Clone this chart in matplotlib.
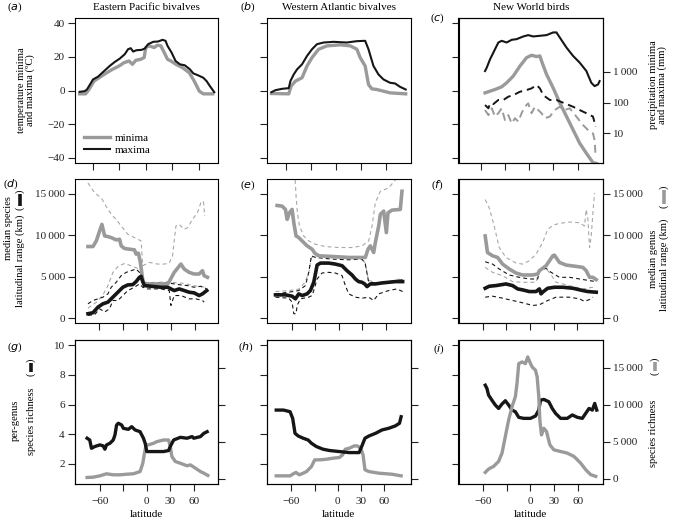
import matplotlib.pyplot as plt
from matplotlib.lines import Line2D
from matplotlib.ticker import NullLocator

plt.rcParams['font.family'] = ['Liberation Serif', 'DejaVu Serif']
plt.rcParams['font.size'] = 8
plt.rcParams['axes.linewidth'] = 0.8

# ---------------- data (latitude, value) ----------------
# (a) Eastern Pacific temperature
a_max_lat = [-74.7, -69, -66.4, -59.6, -54, -48.3, -40.8, -35.1, -29.4, -23.8, -20, -17, -14.3, -10.6, -4.9, -1.1,
             2.6, 8.3, 13.9, 18.9, 22.3, 24.5, 29.1, 33.6, 38.5, 44.1, 49.8, 53.6, 59.2, 64.9, 68.6, 72.4, 77.3]
a_max_t = [-0.8, -0.4, 0.6, 6.6, 8.2, 11, 14.6, 17, 19, 21.6, 24.6, 25.2, 23.2, 24, 24.2, 25, 27.6, 29, 29.2, 30.2,
           29.6, 26.6, 22.6, 17.6, 15.6, 15, 12.6, 10.2, 9, 7.6, 5.6, 2.6, -1]
a_min_lat = [-74.7, -68, -64.2, -58.5, -52.8, -45.3, -37.7, -30.2, -24.5, -18.9, -15.1, -11.3, -5.7, -1.9, 0, 3.8,
             9.4, 13.2, 17, 20.8, 24.5, 28.3, 34, 41.5, 49.1, 54.7, 60.4, 64.9, 75.5]
a_min_t = [-2, -2, 0.6, 5.6, 7.6, 10.2, 12.6, 14.6, 16.6, 17.6, 15.6, 18, 18.6, 19.6, 25.6, 26.6, 25.6, 27, 26.6,
           22.6, 18.6, 17.6, 15.6, 13.6, 10.6, 5.6, -0.4, -2, -2]

# (b) Western Atlantic temperature
b_max_lat = [-78, -73.2, -65.2, -57.2, -55.2, -51.2, -47.2, -41.2, -35.2, -29.2, -23.2, -15.2, -3.2, 12.8, 24.8,
             34.8, 38.8, 44.8, 50.8, 56.8, 64.8, 70.8, 76.8, 83.6]
b_max_t = [-1, 0.2, 1, 1.4, 5.6, 9.6, 12.6, 15.6, 20.6, 24.6, 27.6, 28.6, 29, 28.6, 29.4, 29.6, 24.6, 14.6, 9.6,
           6.6, 4.6, 4.2, 2.2, 0.6]
b_min_lat = [-78, -57.2, -54.4, -49.2, -41.2, -35.2, -29.2, -21.2, -11.2, 4.8, 16.8, 24.8, 28.8, 34.8, 38.8, 42.8,
             48.8, 56.8, 64.8, 83.6]
b_min_t = [-1.8, -2, 2.6, 5.6, 7.6, 14.6, 19.6, 24.6, 26.6, 27.2, 26.6, 24.6, 19.6, 14.6, 3.6, 1, 0.6, -0.4, -1.4, -2]

# (c) New World birds temperature and precipitation
c_tmax_lat = [-54.8, -52.7, -48.6, -44.5, -38.3, -34.2, -28, -21.8, -15.7, -7.4, -1.3, 4.9, 13.1, 21.4, 29.6,
              33.7, 37.8, 46.1, 54.3, 62.5, 70.8, 76.9, 81, 85.2, 87.2]
c_tmax = [11.6, 13.6, 18.6, 22.6, 28.6, 29.6, 28.6, 30.2, 30.6, 32.2, 33, 32.2, 32.6, 33, 34.6, 34.6, 31.6, 25.6,
          20.6, 16.6, 11.6, 4.6, 2.6, 3.6, 5.6]
c_tmin_lat = [-54.8, -48.6, -42.4, -34.2, -28, -19.8, -11.5, -3.3, 2.9, 9, 13.2, 15.2, 21.4, 29.6, 37.8, 46.1, 54.3,
              62.5, 70.8, 79, 83.1]
c_tmin = [-1.4, -0.4, 0.6, 2.2, 4.6, 8.6, 14.6, 19.6, 21, 20.2, 20.6, 17.6, 9.6, 1.6, -7.4, -15.4, -23.4, -31.4,
          -37.4, -43, -43.4]
c_pmax_lat = [-54.8, -50.6, -48.6, -44.5, -38.3, -32.1, -25.9, -19.8, -11.5, -3.3, 2.9, 9, 13.2, 17.3, 25.5, 33.7,
              44, 54.3, 62.5, 70.8, 79, 82.3]
c_pmax = [83, 65, 94, 89, 121, 121, 155, 174, 224, 255, 288, 371, 288, 174, 121, 121, 94, 73, 57, 45, 35, 16.4]
c_pmin_lat = [-54.8, -50.6, -46.5, -42.4, -38.3, -34.2, -30.1, -25.9, -21.8, -17.7, -13.6, -9.5, -5.4, -1.3, 2.9, 7,
              11.1, 15.2, 19.3, 25.5, 31.7, 37.8, 44, 50.2, 58.4, 66.6, 74.9, 79, 81, 82.3]
c_pmin = [57, 39, 65, 35, 45, 65, 27, 39, 21, 31, 24, 45, 73, 94, 45, 73, 57, 45, 31, 35, 57, 73, 57, 65, 35, 18.6,
          11.3, 10, 6, 1.7]

# (d) Eastern Pacific latitudinal ranges (km)
d_sp_lat = [-74.5, -68.2, -61.9, -55.6, -49.4, -43.1, -38.9, -34.7, -30.5, -24.3, -18, -13.8, -9.6, -7.5, -5.4, -3.3,
            5, 17.6, 26, 30.1, 34.3, 40.6, 46.9, 53.1, 59.4, 65.7, 69.9, 75.3]
d_sp = [520, 640, 1320, 1720, 1920, 2520, 2920, 3320, 3720, 4000, 4040, 4400, 4920, 5040, 4400, 3920, 3840, 3720,
        3720, 3520, 3320, 3520, 3320, 3120, 3040, 2720, 2920, 3320]
d_gen_lat = [-74.5, -68.2, -64, -59.8, -56.9, -53.5, -49.4, -45.2, -38.9, -34.7, -32.6, -28.4, -22.2, -15.9, -13.8,
             -10.9, -8.4, -5.4, -3.3, 9.2, 26, 28, 34.3, 42.7, 46.9, 53.1, 59.4, 65.7, 69.9, 72, 76.2]
d_gen = [8640, 8640, 9320, 10520, 11320, 9920, 9840, 9720, 9440, 9520, 8720, 8400, 8320, 8240, 7720, 7840, 6720,
         4520, 4120, 4120, 4120, 4400, 5520, 6520, 5920, 5520, 5320, 5320, 5720, 5120, 4920]
d_gen_hi_lat = [-74.5, -66.1, -57.7, -49.4, -43.1, -38.9, -32.6, -24.3, -15.9, -7.5, -5.4, 2.9, 13.4, 21.8, 28, 32.2,
                36.4, 40.6, 46.9, 51.1, 57.3, 63.6, 67.8, 71.1, 72.8]
d_gen_hi = [16320, 15120, 14520, 13120, 12320, 11920, 11120, 10120, 9720, 9320, 6320, 6720, 6520, 6520, 6640, 7520,
            11120, 11320, 10720, 10920, 11920, 12720, 13920, 14120, 12320]
d_gen_lo_lat = [-74.5, -64, -55.6, -49.4, -43.1, -36, -28, -20, -12, -6, -3.3, 10, 28, 32, 45, 60, 75]
d_gen_lo = [1200, 1900, 2800, 3900, 5500, 6300, 6600, 6300, 6000, 5600, 4300, 4300, 4400, 4300, 4200, 3900, 3700]
d_sp_hi_lat = [-74.5, -68.2, -61.9, -55.6, -49.4, -45.2, -38.9, -32.6, -26.3, -20.1, -13.8, -9.6, -5.4, 0.8, 17.6,
               28, 34.3, 42.7, 51.1, 59.4, 67.8, 75.3]
d_sp_hi = [1720, 2120, 2320, 2520, 2920, 3720, 4320, 5120, 5520, 5720, 5920, 5520, 4320, 4240, 4240, 4240, 4120,
           4000, 3920, 3720, 3840, 3520]
d_sp_lo_lat = [-74.5, -66.1, -59.8, -53.5, -47.3, -43.1, -36.8, -30.5, -24.3, -15.9, -9.6, -5.4, 0.8, 17.6, 28,
               30.1, 34.3, 42.7, 53.1, 61.5, 69.9, 72]
d_sp_lo = [320, 400, 1120, 720, 1120, 2120, 2120, 2720, 3320, 3720, 4120, 3720, 3520, 3520, 3320, 1520, 2720, 2720,
           2320, 2320, 2120, 1920]

# (e) Western Atlantic latitudinal ranges (km)
e_sp_lat = [-80.8, -68.1, -59.6, -55.3, -51.1, -46.8, -40.4, -36.2, -31.9, -29.8, -27.6, -23.4, -12.8, -4.3, 4.3,
            10.6, 17, 21.3, 25.5, 29.8, 33.2, 36.2, 40.4, 46.8, 55.3, 63.8, 72.3, 81.7]
e_sp = [2800, 2800, 2640, 2320, 2920, 2720, 2920, 3320, 4320, 5320, 6400, 6640, 6640, 6520, 6320, 5720, 5200, 4720,
        4400, 4320, 4120, 3800, 4120, 4120, 4240, 4320, 4400, 4400]
e_gen_lat = [-78.7, -72.3, -68.1, -65.9, -63, -59.6, -57.4, -54.5, -51.1, -46.8, -40.4, -34, -30.6, -25.5, -8.5,
             12.8, 29.8, 34, 37.5, 40.4, 44.7, 46.8, 51.1, 53.2, 57.5, 60.9, 63, 68.1, 78.7, 80.9]
e_gen = [13600, 13520, 13120, 11920, 12720, 13120, 11520, 9920, 9720, 9320, 8720, 8320, 7840, 7520, 7440, 7320,
         7320, 7320, 8320, 8720, 7920, 9120, 11120, 12520, 12920, 10320, 12720, 13040, 13120, 15320]
e_gen_hi_lat = [-56.2, -54.5, -52.8, -50.2, -44.7, -38.3, -29.8, -17, 0, 17, 29.8, 38.3, 42.6, 46.8, 53.2, 63.8,
                74.5, 81.7]
e_gen_hi = [17520, 14720, 12720, 11120, 9920, 9320, 8920, 8640, 8520, 8520, 8720, 9320, 11120, 13920, 15320, 15720,
            16920, 17520]
e_gen_lo_lat = [-80.8, -64, -51, -43, -38, -35, -30, -9, 13, 30, 34, 38, 47, 64, 82]
e_gen_lo = [3200, 3300, 3500, 4300, 5600, 7300, 7500, 7300, 7200, 7200, 6600, 4600, 4200, 4400, 4800]
e_sp_hi_lat = [-80.8, -63.8, -51.1, -42.5, -38.3, -34.9, -29.8, -8.5, 12.8, 29.8, 34, 38.3, 46.8, 63.8, 81.7]
e_sp_hi = [2920, 3120, 3320, 3920, 5520, 7520, 7320, 7120, 7040, 7120, 6520, 4320, 4240, 4320, 4640]
e_sp_lo_lat = [-80.8, -63.8, -59.6, -57.4, -54.5, -53.2, -48.9, -38.3, -34, -31.9, -27.6, -21.3, -12.8, -4.3, 4.3,
               8.5, 12.8, 21.3, 29.8, 38.3, 44.7, 51.1, 63.8, 74.5, 81.7]
e_sp_lo = [2520, 2400, 1920, 520, 520, 1520, 2320, 2520, 2720, 3320, 4720, 5440, 5520, 5440, 5120, 3920, 2920,
           2520, 2400, 2520, 2120, 2920, 3320, 3520, 3200]

# (f) New World birds latitudinal ranges (km)
f_sp_lat = [-56.8, -51.7, -43.3, -30.5, -22.1, -15.7, -9.4, -0.9, 7.6, 11.8, 13.9, 16.9, 22.4, 30.9, 41.5, 54.2,
            66.9, 73.3, 83.8]
f_sp = [3600, 3840, 3920, 4120, 3920, 3520, 3400, 3200, 3200, 3520, 2920, 3200, 3600, 3720, 3720, 3600, 3320, 3200,
        3120]
f_gen_lat = [-56.8, -53.9, -47.5, -41.1, -34.8, -26.3, -17.8, -9.4, 3.4, 9.7, 11.8, 20.3, 28.8, 30.9, 37.2, 45.7,
             58.4, 66.9, 71.1, 75.4, 79.6, 83.8]
f_gen = [9920, 7920, 7520, 7320, 6520, 5920, 5440, 5200, 5200, 5320, 5720, 6320, 7520, 7600, 6720, 6400, 6240,
         6120, 5720, 4920, 4920, 4640]
f_gen_hi_lat = [-56.8, -51.7, -45.4, -39, -30.5, -17.8, -9.4, -0.9, 7.6, 16, 22.4, 28.8, 37.2, 49.9, 62.7, 69, 71.1,
                73.3, 75.4, 77.5, 79.6, 81.7]
f_gen_hi = [14320, 13320, 11120, 8520, 7320, 6640, 6520, 6920, 7720, 9120, 10720, 11200, 11440, 11600, 11520,
            11120, 13120, 11920, 8520, 9920, 12720, 15120]
f_gen_lo_lat = [-56.8, -47.5, -34.8, -22.1, -9.4, 7.6, 11.8, 18.2, 24.5, 33, 49.9, 66.9, 79.6]
f_gen_lo = [6120, 5520, 5120, 4400, 4320, 4320, 5840, 6120, 5520, 4320, 3920, 3520, 3720]
f_sp_hi_lat = [-56.8, -47.5, -39, -26.3, -13.6, -0.9, 9.7, 11.8, 20.3, 26.7, 37.2, 49.9, 62.7, 75.4, 83.8]
f_sp_hi = [6800, 6520, 5920, 5200, 4920, 4720, 4720, 5720, 6000, 5520, 4920, 4920, 4720, 4520, 4400]
f_sp_lo_lat = [-56.8, -47.5, -34.8, -22.1, -9.4, 3.4, 11.8, 22.4, 33, 49.9, 62.7, 69, 75.4, 79.6]
f_sp_lo = [2520, 2640, 2400, 2120, 1840, 1520, 1600, 2120, 2520, 2520, 2320, 2000, 2240, 2520]

# (g) Eastern Pacific richness
g_pg_lat = [-76.3, -72.9, -70.7, -66.4, -60, -55.7, -53.6, -51.4, -47.1, -42.9, -40.7, -38.6, -36.4, -32.1, -30,
            -23.6, -19.3, -15, -8.6, -4.3, -2.1, 0, 8.6, 21.4, 27.9, 30, 34.3, 42.9, 51.4, 57.9, 60, 68.6, 72.9, 77.1]
g_pg = [3.73, 3.61, 3.05, 3.17, 3.28, 3.21, 2.99, 3.28, 3.39, 3.61, 3.95, 4.62, 4.74, 4.62, 4.4, 4.33, 4.51, 4.29,
        4.17, 3.73, 3.39, 2.83, 2.83, 2.83, 2.9, 3.17, 3.61, 3.79, 3.73, 3.84, 3.73, 3.84, 4.06, 4.17]
g_sr_lat = [-76.3, -68.6, -60, -51.4, -42.9, -34.3, -25.7, -17.1, -8.6, -5.1, -3, -0.9, 2.1, 8.6, 12.9, 21.4, 27.9,
            30, 32.1, 36.4, 42.9, 51.4, 55.7, 62.1, 68.6, 72.9, 78]
g_sr = [1.08, 1.1, 1.19, 1.33, 1.26, 1.26, 1.3, 1.33, 1.48, 2.04, 2.72, 3.28, 3.28, 3.39, 3.5, 3.61, 3.61, 3.17,
        2.49, 2.16, 2.04, 1.87, 1.93, 1.71, 1.48, 1.37, 1.22]

# (h) Western Atlantic richness
h_pg_lat = [-79.6, -70.2, -61.7, -58.3, -56.6, -55.3, -51.1, -44.7, -38.3, -34, -27.7, -19.1, -10.6, 2.1, 14.9, 27.7,
            31.9, 35.3, 40.4, 48.9, 57.4, 66, 74.5, 80, 82.1]
h_pg = [5.63, 5.63, 5.52, 5.07, 4.51, 4.06, 3.88, 3.73, 3.61, 3.39, 3.17, 2.99, 2.9, 2.83, 2.76, 2.76, 3.28, 3.73,
        3.88, 4.06, 4.29, 4.4, 4.56, 4.74, 5.18]
h_sr_lat = [-79.6, -61.7, -57.4, -54, -49.8, -44.7, -40.4, -34, -29.8, -23.4, -14.9, -6.4, 2.1, 6.4, 9.8, 14.9, 21.3,
            25.5, 29.8, 32.8, 35.3, 40.4, 53.2, 70.2, 82.1]
h_sr = [1.19, 1.19, 1.33, 1.42, 1.26, 1.37, 1.48, 1.82, 2.27, 2.27, 2.31, 2.38, 2.43, 2.61, 2.99, 3.05, 3.21, 3.21,
        3.05, 2.61, 1.6, 1.48, 1.37, 1.3, 1.19]

# (i) New World birds richness
i_pg_lat = [-57.2, -55.1, -53, -48.8, -44.5, -40.3, -36, -31.8, -27.6, -23.3, -19.1, -14.8, -8.5, 0, 6.4, 10.6, 12.7,
            17, 23.3, 27.6, 31.8, 38.2, 46.6, 53, 59.4, 65.7, 70, 74.2, 78.4, 81.4, 84]
i_pg = [7.31, 7.09, 6.64, 6.3, 5.97, 5.74, 6.04, 6.26, 5.97, 5.63, 5.52, 5.14, 5.07, 5.07, 5.23, 5.63, 6.3, 6.35,
        6.19, 5.74, 5.41, 5.07, 5.07, 5.3, 5.14, 5.07, 5.41, 5.74, 5.63, 6.08, 5.63]
i_sr_lat = [-57.2, -53, -46.6, -40.3, -36, -31.8, -27.6, -23.3, -19.1, -17, -14.8, -10.6, -6.4, -3.4, -0.8, 2.1, 6.4,
            8.5, 10.6, 11.9, 14, 17, 20.4, 24.6, 29.7, 38.2, 46.6, 55.1, 63.6, 70, 76.3, 82.7]
i_sr = [850, 1300, 1660, 2330, 3450, 5680, 7920, 9710, 11060, 12850, 15530, 15760, 15530, 16430, 15760, 15080,
        14640, 13740, 11060, 7920, 5910, 6800, 6360, 4570, 3890, 3670, 3450, 3000, 2100, 1210, 540, 310]

titles = ['Eastern Pacific bivalves', 'Western Atlantic bivalves', 'New World birds']
lat_ticks = [-60, -30, 0, 30, 60]
lat_labels = ['\u221260', '', '0', '30', '60']
temp_ticks = [-40, -20, 0, 20, 40]
range_ticks = [0, 5000, 10000, 15000]
range_labels = ['0', '5\u2009000', '10\u2009000', '15\u2009000']
pg_ticks = [2, 4, 6, 8, 10]
precip_ticks = [10, 100, 1000]
precip_labels = ['10', '100', '1\u2009000']

BLACK = '#161616'
GRAY = '#9a9a9a'
LGRAY = '#a8a8a8'

W, H = 673, 519
fig = plt.figure(figsize=(W / 100, H / 100), dpi=100)

cols = [(74.5, 218), (266.5, 411), (458.5, 603)]
rows = [(18, 163), (179, 323), (340, 484)]
xlims = [[(-80.5, 81.5), (-84, 90), (-87.7, 91.4)],
         [(-91.5, 89.5), (-92.3, 92.4), (-90.6, 92.4)],
         [(-92.4, 91), (-92.2, 94.9), (-91.1, 91.9)]]
ylims = [(-43.2, 43.2), (-600, 16800), (0.64, 10.36)]


def ftext(x, y, s, **kw):
    return fig.text(x / W, 1 - y / H, s, **kw)


def tick_style(ax, **kw):
    ax.tick_params(direction='out', length=5, width=0.8, pad=2, labelsize=8, colors='#222222', **kw)


axes = []
for r in range(3):
    row = []
    for c in range(3):
        l, rr = cols[c]
        t, b = rows[r]
        ax = fig.add_axes([l / W, 1 - b / H, (rr - l) / W, (b - t) / H])
        ax.set_xlim(xlims[r][c])
        ax.set_ylim(ylims[r])
        ax.set_xticks(lat_ticks)
        if r == 2:
            ax.set_xticklabels(lat_labels)
            ax.set_xlabel('latitude', fontsize=8, labelpad=3)
        else:
            ax.set_xticklabels([])
        if r == 0:
            ax.set_yticks(temp_ticks)
            ax.set_yticklabels(['\u221240', '\u221220', '0', '20', '40'] if c == 0 else [])
        elif r == 1:
            ax.set_yticks(range_ticks)
            ax.set_yticklabels(range_labels if c == 0 else [])
        else:
            ax.set_yticks(pg_ticks)
            ax.set_yticklabels(['2', '4', '6', '8', '10'] if c == 0 else [])
        tick_style(ax)
        if r == 2:
            ax.tick_params(axis='x', pad=4)
        row.append(ax)
    axes.append(row)

dash_thin = dict(lw=0.8, dashes=(3.5, 2.8))

# row 1: temperature
ax = axes[0][0]
ax.plot(a_min_lat, a_min_t, color=GRAY, lw=2.4, label='minima')
ax.plot(a_max_lat, a_max_t, color=BLACK, lw=1.5, label='maxima')
ax.legend(loc='lower left', bbox_to_anchor=(0.03, 0.02), frameon=False, fontsize=8,
          handlelength=2.3, handletextpad=0.4, labelspacing=0.2, borderpad=0)

ax = axes[0][1]
ax.plot(b_min_lat, b_min_t, color=GRAY, lw=2.4)
ax.plot(b_max_lat, b_max_t, color=BLACK, lw=1.5)

ax = axes[0][2]
ax.plot(c_tmin_lat, c_tmin, color=GRAY, lw=2.4)
ax.plot(c_tmax_lat, c_tmax, color=BLACK, lw=1.5)
axp = ax.twinx()
axp.set_yscale('log')
axp.set_ylim(1.09, 55400)
axp.set_yticks(precip_ticks)
axp.set_yticklabels(precip_labels)
axp.yaxis.set_minor_locator(NullLocator())
tick_style(axp)
axp.plot(c_pmin_lat, c_pmin, color=GRAY, lw=1.4, dashes=(4, 2.5))
axp.plot(c_pmax_lat, c_pmax, color=BLACK, lw=1.4, dashes=(4, 2.5))

# row 2: latitudinal ranges
panels = [
    (d_gen_hi_lat, d_gen_hi, d_gen_lo_lat, d_gen_lo, d_sp_hi_lat, d_sp_hi, d_sp_lo_lat, d_sp_lo,
     d_gen_lat, d_gen, d_sp_lat, d_sp),
    (e_gen_hi_lat, e_gen_hi, e_gen_lo_lat, e_gen_lo, e_sp_hi_lat, e_sp_hi, e_sp_lo_lat, e_sp_lo,
     e_gen_lat, e_gen, e_sp_lat, e_sp),
    (f_gen_hi_lat, f_gen_hi, f_gen_lo_lat, f_gen_lo, f_sp_hi_lat, f_sp_hi, f_sp_lo_lat, f_sp_lo,
     f_gen_lat, f_gen, f_sp_lat, f_sp),
]
for c, p in enumerate(panels):
    ax = axes[1][c]
    ax.plot(p[0], p[1], color=LGRAY, **dash_thin)
    ax.plot(p[2], p[3], color=LGRAY, **dash_thin)
    ax.plot(p[4], p[5], color=BLACK, **dash_thin)
    ax.plot(p[6], p[7], color=BLACK, **dash_thin)
    ax.plot(p[8], p[9], color=GRAY, lw=2.6)
    ax.plot(p[10], p[11], color=BLACK, lw=2.6)
axf = axes[1][2].twinx()
axf.set_ylim(ylims[1])
axf.set_yticks(range_ticks)
axf.set_yticklabels(range_labels)
tick_style(axf)

# row 3: richness
ax = axes[2][0]
ax.plot(g_sr_lat, g_sr, color=GRAY, lw=2.4)
ax.plot(g_pg_lat, g_pg, color=BLACK, lw=2.4)
ax = axes[2][1]
ax.plot(h_sr_lat, h_sr, color=GRAY, lw=2.4)
ax.plot(h_pg_lat, h_pg, color=BLACK, lw=2.4)
ax = axes[2][2]
ax.plot(i_pg_lat, i_pg, color=BLACK, lw=2.4)
for c in range(3):
    tw = axes[2][c].twinx()
    tw.set_ylim(-720, 18720)
    tw.set_yticks(range_ticks)
    tw.set_yticklabels(range_labels if c == 2 else [])
    tick_style(tw)
    if c == 2:
        tw.plot(i_sr_lat, i_sr, color=GRAY, lw=2.4)

# titles and panel letters
for c in range(3):
    ftext((cols[c][0] + cols[c][1]) / 2, 7, titles[c], ha='center', va='center', fontsize=8)
letters = [('a', 15, 7), ('b', 248, 7), ('c', 437, 18),
           ('d', 11, 184), ('e', 248, 185), ('f', 437, 185),
           ('g', 15, 347), ('h', 246, 347), ('i', 439, 349)]
for s, x, y in letters:
    ftext(x, y, '(' + r'$\it{' + s + '}$' + ')', ha='center', va='center', fontsize=8)

# axis titles
lab = dict(rotation=90, ha='center', va='center', fontsize=7.6, linespacing=1.05)
ftext(26, 90, 'temperature minima\nand maxima (\u00baC)', **lab)
ftext(658, 85, 'precipitation minima\nand maxima (mm)', **lab)
ftext(8.5, 228, 'median species', **lab)
ftext(20, 261, 'latitudinal range (km)', **lab)
ftext(653, 259, 'median genus', **lab)
ftext(664, 265, 'latitudinal range (km)', **lab)
ftext(15, 420, 'per-genus', **lab)
ftext(31, 421, 'species richness', **lab)
ftext(653, 433, 'species richness', **lab)


def legsym(x, y0, y1, color):
    fig.add_artist(Line2D([x / W, x / W], [1 - y1 / H, 1 - y0 / H], transform=fig.transFigure,
                          color=color, lw=2.6, solid_capstyle='butt'))
    ftext(x, y1 + 2.5, '(', rotation=90, ha='center', va='center', fontsize=7.6)
    ftext(x, y0 - 2.5, ')', rotation=90, ha='center', va='center', fontsize=7.6)


legsym(20, 194, 206, BLACK)
legsym(31, 363, 372, BLACK)
legsym(664, 190, 204, GRAY)
legsym(655, 362, 371, GRAY)

fig.savefig('out.png', dpi=100)
